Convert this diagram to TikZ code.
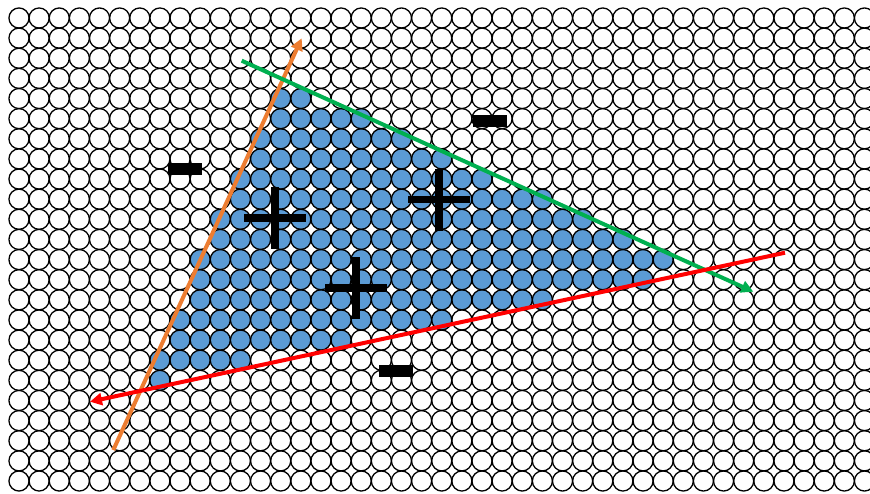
\documentclass[tikz,border=0pt]{standalone}
\usetikzlibrary{arrows.meta}
\definecolor{cblue}{HTML}{5B9BD5}
\definecolor{corange}{HTML}{ED7D31}
\definecolor{cgreen}{HTML}{00B050}
\definecolor{cred}{HTML}{FF0000}
\begin{document}
\begin{tikzpicture}[x=1pt,y=-1pt,
  dotline/.style={draw=black,line width=1.3pt},
  dotfill/.style={fill=cblue},
  vec/.style={line width=4pt,-{Triangle[length=12pt,width=12pt]}},
  minusbar/.style={fill=black,inner sep=0pt,minimum width=34pt,minimum height=11.5pt},
  plusbar/.style={fill=black}]
\useasboundingbox (0,0) rectangle (870,493);
\fill[white] (0,0) rectangle (870,493);
% blue circles
\foreach \j/\a/\b in {4/13/14,5/13/17,6/12/19,7/12/21,8/11/23,9/11/26,10/10/28,11/10/30,12/9/32,13/9/31,14/9/26,15/8/21,16/8/16,17/7/11,18/7/7}{
  \foreach \i in {\a,...,\b}{
    \fill[dotfill] ({19+20.13*\i},{18+20.13*\j}) circle[radius=10.05pt];
  }
}
% circle outlines
\foreach \i in {0,...,42}{
  \foreach \j in {0,...,23}{
    \draw[dotline] ({19+20.13*\i},{18+20.13*\j}) circle[radius=10.05pt];
  }
}
% minus signs
\node[minusbar] (m1) at (185,169) {};
\node[minusbar] (m2) at (489.7,121) {};
\node[minusbar] (m3) at (395.6,371) {};
% plus signs
\coordinate (p1) at (275.3,218);
\coordinate (p2) at (439,199.5);
\coordinate (p3) at (356,288);
\foreach \p in {p1,p2,p3}{
  \fill[plusbar] ([xshift=-31pt,yshift=-3.6pt]\p) rectangle ([xshift=31pt,yshift=3.6pt]\p);
  \fill[plusbar] ([xshift=-4pt,yshift=-31pt]\p) rectangle ([xshift=4pt,yshift=31pt]\p);
}
% arrows
\coordinate (o1) at (113.3,450);
\coordinate (o2) at (301.7,38.3);
\coordinate (g1) at (241.7,60.7);
\coordinate (g2) at (753.3,291.7);
\coordinate (r1) at (785,252.7);
\coordinate (r2) at (90,401.7);
\draw[vec,corange] (o1) -- (o2);
\draw[vec,cgreen] (g1) -- (g2);
\draw[vec,cred] (r1) -- (r2);
\end{tikzpicture}
\end{document}
